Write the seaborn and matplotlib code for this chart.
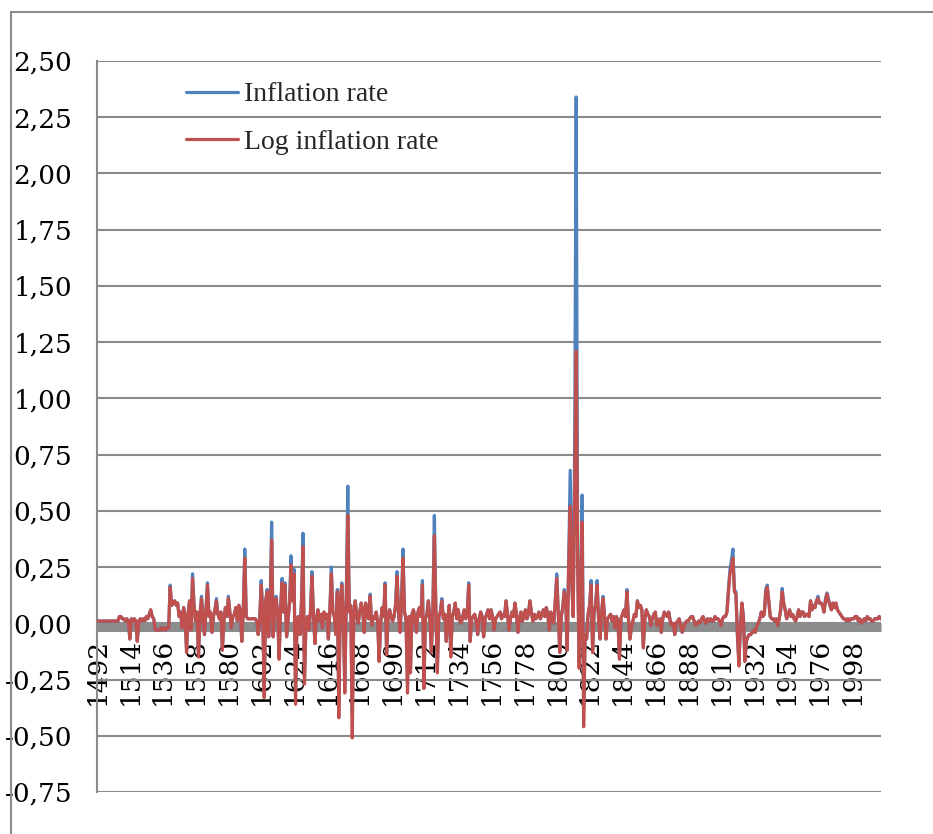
import numpy as np
import pandas as pd
import matplotlib
matplotlib.use("Agg")
import matplotlib.pyplot as plt
import seaborn as sns
from matplotlib.lines import Line2D

# ---------------- data ----------------
start_year = 1492
end_year = 2017
years = list(range(start_year, end_year + 1))

inflation_rate = [
    0.01, 0.01, 0.01, 0.01, 0.01, 0.01, 0.01, 0.01,                       # 1492-1499
    0.01, 0.01, 0.01, 0.01, 0.01, 0.01, 0.01, 0.03, 0.03, 0.02,           # 1500
    0.02, 0.01, 0.02, 0.01, -0.07, 0.02, 0.01, 0.02, 0.01, -0.08,         # 1510
    0.01, 0.02, 0.01, 0.02, 0.01, 0.03, 0.02, 0.04, 0.06, 0.03,           # 1520
    0.02, -0.03, -0.03, -0.03, -0.03, -0.02, -0.03, -0.02, -0.03, -0.02,  # 1530
    -0.02, 0.17, 0.08, 0.09, 0.10, 0.08, 0.09, 0.03, 0.05, -0.02,         # 1540
    0.07, 0.03, -0.12, 0.04, 0.10, -0.03, 0.22, 0.08, 0.01, 0.05,         # 1550
    -0.14, 0.04, 0.12, 0.02, -0.05, 0.06, 0.18, 0.03, 0.05, -0.04,        # 1560
    0.03, 0.06, 0.11, 0.04, 0.02, 0.05, -0.11, 0.01, 0.07, 0.03,          # 1570
    0.12, 0.05, -0.02, 0.03, 0.04, 0.07, 0.01, 0.08, 0.06, -0.08,         # 1580
    0.06, 0.33, 0.03, 0.02, 0.02, 0.02, 0.02, 0.02, 0.02, 0.01,           # 1590
    -0.05, 0.02, 0.19, 0.05, -0.28, 0.10, 0.15, -0.06, 0.08, 0.45,        # 1600
    -0.06, 0.06, 0.12, 0.04, -0.15, 0.07, 0.20, 0.05, 0.18, -0.06,        # 1610
    0.02, 0.09, 0.30, 0.10, 0.24, -0.30, 0.02, 0.03, -0.05, 0.10,         # 1620
    0.40, -0.24, 0.01, 0.03, -0.03, 0.05, 0.23, 0.04, -0.09, 0.02,        # 1630
    0.06, 0.01, 0.04, -0.02, 0.05, 0.02, 0.04, -0.07, 0.06, 0.25,         # 1640
    0.05, 0.03, -0.05, 0.15, -0.34, 0.10, 0.18, 0.02, -0.27, 0.12,        # 1650
    0.61, 0.05, 0.08, -0.40, 0.04, 0.10, 0.03, 0.00, 0.05, 0.09,          # 1660
    0.06, -0.04, 0.09, 0.04, 0.02, 0.13, -0.01, 0.03, 0.02, 0.05,         # 1670
    0.01, -0.16, 0.00, 0.07, 0.03, 0.18, -0.13, 0.02, 0.06, 0.03,         # 1680
    0.01, 0.03, 0.08, 0.23, 0.05, -0.04, 0.10, 0.33, 0.05, 0.02,          # 1690
    -0.27, 0.03, -0.20, 0.04, 0.06, 0.02, -0.04, 0.05, 0.07, 0.03,        # 1700
    0.19, -0.25, 0.02, 0.04, 0.10, 0.01, -0.12, 0.06, 0.48, 0.06,         # 1710
    -0.20, 0.03, 0.05, 0.11, 0.02, 0.04, -0.08, 0.02, 0.08, -0.14,        # 1720
    0.03, 0.05, 0.09, 0.02, 0.06, 0.01, 0.00, 0.03, 0.06, 0.02,           # 1730
    0.04, 0.18, -0.08, 0.02, 0.03, 0.04, 0.01, -0.05, 0.02, 0.05,         # 1740
    0.03, -0.06, 0.02, 0.04, 0.06, 0.02, 0.06, 0.03, -0.03, 0.02,         # 1750
    0.03, 0.04, 0.05, 0.02, 0.04, 0.03, 0.10, 0.04, -0.03, 0.02,          # 1760
    0.05, 0.03, 0.09, 0.04, -0.04, 0.02, 0.05, 0.01, 0.03, 0.06,          # 1770
    0.02, 0.04, 0.10, 0.05, 0.01, 0.04, 0.02, 0.03, 0.05, 0.02,           # 1780
    0.04, 0.06, 0.03, 0.07, 0.04, -0.03, 0.05, 0.02, 0.00, 0.10,          # 1790
    0.22, 0.05, -0.12, 0.03, 0.07, 0.15, 0.11, -0.11, 0.30, 0.68,         # 1800
    0.20, 0.03, 0.81, 2.34, 0.30, -0.18, 0.15, 0.57, -0.37, -0.05,        # 1810
    -0.07, 0.04, 0.08, 0.19, -0.12, 0.05, 0.08, 0.19, 0.02, -0.07,        # 1820
    0.05, 0.12, 0.03, -0.07, 0.02, 0.03, 0.04, 0.01, 0.03, -0.02,         # 1830
    0.03, 0.01, -0.15, 0.02, 0.04, 0.06, 0.03, 0.15, 0.02, -0.07,         # 1840
    -0.02, 0.01, 0.04, 0.03, 0.10, 0.07, 0.08, 0.06, -0.10, 0.02,         # 1850
    0.06, 0.04, 0.03, -0.01, 0.02, 0.04, 0.05, -0.01, 0.01, 0.02,         # 1860
    -0.04, 0.02, 0.05, 0.04, 0.03, 0.05, 0.01, -0.01, 0.00, -0.05,        # 1870
    0.00, 0.01, 0.02, -0.01, -0.04, -0.02, 0.00, 0.01, 0.01, 0.02,        # 1880
    0.03, 0.03, 0.01, -0.01, 0.00, 0.01, 0.00, 0.02, 0.03, 0.01,          # 1890
    0.00, 0.02, 0.01, 0.02, 0.01, 0.01, 0.03, 0.02, 0.02, 0.01,           # 1900
    -0.01, 0.02, 0.03, 0.03, 0.05, 0.15, 0.24, 0.28, 0.33, 0.15,          # 1910
    0.14, -0.05, -0.17, -0.02, 0.09, 0.03, -0.16, -0.08, -0.06, -0.05,    # 1920
    -0.05, -0.04, -0.03, -0.04, -0.01, 0.00, 0.02, 0.05, 0.03, 0.04,      # 1930
    0.15, 0.17, 0.10, 0.03, 0.02, 0.02, 0.01, 0.02, -0.01, 0.02,          # 1940
    0.06, 0.155, 0.09, 0.06, 0.02, 0.04, 0.06, 0.03, 0.04, 0.02,          # 1950
    0.01, 0.03, 0.06, 0.03, 0.05, 0.05, 0.03, 0.04, 0.04, 0.03,           # 1960
    0.10, 0.06, 0.08, 0.07, 0.10, 0.12, 0.09, 0.09, 0.08, 0.05,           # 1970
    0.11, 0.135, 0.11, 0.08, 0.06, 0.09, 0.07, 0.09, 0.06, 0.05,          # 1980
    0.04, 0.03, 0.02, 0.02, 0.01, 0.02, 0.01, 0.02, 0.02, 0.02,           # 1990
    0.03, 0.03, 0.01, 0.02, 0.00, 0.01, 0.02, 0.01, 0.03, 0.02,           # 2000
    0.02, 0.01, 0.01, 0.02, 0.02, 0.02, 0.03, 0.02,                       # 2010-2017
]

log_inflation_rate = [
    0.01, 0.01, 0.01, 0.01, 0.01, 0.01, 0.01, 0.01,                       # 1492-1499
    0.01, 0.01, 0.01, 0.01, 0.01, 0.01, 0.01, 0.03, 0.03, 0.02,           # 1500
    0.02, 0.01, 0.02, 0.01, -0.07, 0.02, 0.01, 0.02, 0.01, -0.08,         # 1510
    0.01, 0.02, 0.01, 0.02, 0.01, 0.03, 0.02, 0.04, 0.06, 0.03,           # 1520
    0.02, -0.03, -0.03, -0.03, -0.03, -0.02, -0.03, -0.02, -0.03, -0.02,  # 1530
    -0.02, 0.16, 0.08, 0.09, 0.10, 0.08, 0.09, 0.03, 0.05, -0.02,         # 1540
    0.07, 0.03, -0.13, 0.04, 0.10, -0.03, 0.20, 0.08, 0.01, 0.05,         # 1550
    -0.15, 0.04, 0.11, 0.02, -0.05, 0.06, 0.17, 0.03, 0.05, -0.04,        # 1560
    0.03, 0.06, 0.10, 0.04, 0.02, 0.05, -0.12, 0.01, 0.07, 0.03,          # 1570
    0.11, 0.05, -0.02, 0.03, 0.04, 0.07, 0.01, 0.08, 0.06, -0.08,         # 1580
    0.06, 0.29, 0.03, 0.02, 0.02, 0.02, 0.02, 0.02, 0.02, 0.01,           # 1590
    -0.05, 0.02, 0.17, 0.05, -0.33, 0.10, 0.14, -0.06, 0.08, 0.37,        # 1600
    -0.06, 0.06, 0.11, 0.04, -0.16, 0.07, 0.18, 0.05, 0.17, -0.06,        # 1610
    0.02, 0.09, 0.26, 0.10, 0.22, -0.36, 0.02, 0.03, -0.05, 0.10,         # 1620
    0.34, -0.27, 0.01, 0.03, -0.03, 0.05, 0.21, 0.04, -0.09, 0.02,        # 1630
    0.06, 0.01, 0.04, -0.02, 0.05, 0.02, 0.04, -0.07, 0.06, 0.22,         # 1640
    0.05, 0.03, -0.05, 0.14, -0.42, 0.10, 0.17, 0.02, -0.31, 0.11,        # 1650
    0.48, 0.05, 0.08, -0.51, 0.04, 0.10, 0.03, 0.00, 0.05, 0.09,          # 1660
    0.06, -0.04, 0.09, 0.04, 0.02, 0.12, -0.01, 0.03, 0.02, 0.05,         # 1670
    0.01, -0.17, 0.00, 0.07, 0.03, 0.17, -0.14, 0.02, 0.06, 0.03,         # 1680
    0.01, 0.03, 0.08, 0.21, 0.05, -0.04, 0.10, 0.29, 0.05, 0.02,          # 1690
    -0.31, 0.03, -0.22, 0.04, 0.06, 0.02, -0.04, 0.05, 0.07, 0.03,        # 1700
    0.17, -0.29, 0.02, 0.04, 0.10, 0.01, -0.13, 0.06, 0.39, 0.06,         # 1710
    -0.22, 0.03, 0.05, 0.10, 0.02, 0.04, -0.08, 0.02, 0.08, -0.15,        # 1720
    0.03, 0.05, 0.09, 0.02, 0.06, 0.01, 0.00, 0.03, 0.06, 0.02,           # 1730
    0.04, 0.17, -0.08, 0.02, 0.03, 0.04, 0.01, -0.05, 0.02, 0.05,         # 1740
    0.03, -0.06, 0.02, 0.04, 0.06, 0.02, 0.06, 0.03, -0.03, 0.02,         # 1750
    0.03, 0.04, 0.05, 0.02, 0.04, 0.03, 0.10, 0.04, -0.03, 0.02,          # 1760
    0.05, 0.03, 0.09, 0.04, -0.04, 0.02, 0.05, 0.01, 0.03, 0.06,          # 1770
    0.02, 0.04, 0.10, 0.05, 0.01, 0.04, 0.02, 0.03, 0.05, 0.02,           # 1780
    0.04, 0.06, 0.03, 0.07, 0.04, -0.03, 0.05, 0.02, 0.00, 0.10,          # 1790
    0.20, 0.05, -0.13, 0.03, 0.07, 0.14, 0.10, -0.12, 0.26, 0.52,         # 1800
    0.18, 0.03, 0.59, 1.21, 0.26, -0.20, 0.14, 0.45, -0.46, -0.05,        # 1810
    -0.07, 0.04, 0.08, 0.17, -0.13, 0.05, 0.08, 0.17, 0.02, -0.07,        # 1820
    0.05, 0.11, 0.03, -0.07, 0.02, 0.03, 0.04, 0.01, 0.03, -0.02,         # 1830
    0.03, 0.01, -0.16, 0.02, 0.04, 0.06, 0.03, 0.14, 0.02, -0.07,         # 1840
    -0.02, 0.01, 0.04, 0.03, 0.10, 0.07, 0.08, 0.06, -0.11, 0.02,         # 1850
    0.06, 0.04, 0.03, -0.01, 0.02, 0.04, 0.05, -0.01, 0.01, 0.02,         # 1860
    -0.04, 0.02, 0.05, 0.04, 0.03, 0.05, 0.01, -0.01, 0.00, -0.05,        # 1870
    0.00, 0.01, 0.02, -0.01, -0.04, -0.02, 0.00, 0.01, 0.01, 0.02,        # 1880
    0.03, 0.03, 0.01, -0.01, 0.00, 0.01, 0.00, 0.02, 0.03, 0.01,          # 1890
    0.00, 0.02, 0.01, 0.02, 0.01, 0.01, 0.03, 0.02, 0.02, 0.01,           # 1900
    -0.01, 0.02, 0.03, 0.03, 0.05, 0.14, 0.22, 0.25, 0.29, 0.14,          # 1910
    0.13, -0.05, -0.19, -0.02, 0.09, 0.03, -0.17, -0.08, -0.06, -0.05,    # 1920
    -0.05, -0.04, -0.03, -0.04, -0.01, 0.00, 0.02, 0.05, 0.03, 0.04,      # 1930
    0.14, 0.16, 0.10, 0.03, 0.02, 0.02, 0.01, 0.02, -0.01, 0.02,          # 1940
    0.06, 0.14, 0.09, 0.06, 0.02, 0.04, 0.06, 0.03, 0.04, 0.02,           # 1950
    0.01, 0.03, 0.06, 0.03, 0.05, 0.05, 0.03, 0.04, 0.04, 0.03,           # 1960
    0.10, 0.06, 0.08, 0.07, 0.10, 0.11, 0.09, 0.09, 0.08, 0.05,           # 1970
    0.10, 0.13, 0.10, 0.08, 0.06, 0.09, 0.07, 0.09, 0.06, 0.05,           # 1980
    0.04, 0.03, 0.02, 0.02, 0.01, 0.02, 0.01, 0.02, 0.02, 0.02,           # 1990
    0.03, 0.03, 0.01, 0.02, 0.00, 0.01, 0.02, 0.01, 0.03, 0.02,           # 2000
    0.02, 0.01, 0.01, 0.02, 0.02, 0.02, 0.03, 0.02,                       # 2010-2017
]

series_names = ["Inflation rate", "Log inflation rate"]
series_colors = ["#4F81BD", "#C0504D"]
y_ticks = [-0.75, -0.50, -0.25, 0.00, 0.25, 0.50, 0.75, 1.00, 1.25,
           1.50, 1.75, 2.00, 2.25, 2.50]
x_tick_years = [1492, 1514, 1536, 1558, 1580, 1602, 1624, 1646, 1668, 1690,
                1712, 1734, 1756, 1778, 1800, 1822, 1844, 1866, 1888, 1910,
                1932, 1954, 1976, 1998]

# ---------------- figure ----------------
sns.set_style("white")
plt.rcParams["font.family"] = ["DejaVu Serif", "Liberation Serif"]

W, H = 933, 834
fig = plt.figure(figsize=(W / 100, H / 100), dpi=100)
ax = fig.add_axes([97 / W, (H - 792) / H, (880.7 - 97) / W, (792 - 61) / H])

n = len(years)
df = pd.DataFrame({
    "year": years + years,
    "value": inflation_rate + log_inflation_rate,
    "series": [series_names[0]] * n + [series_names[1]] * n,
})
sns.lineplot(data=df, x="year", y="value", hue="series",
             hue_order=series_names, palette=series_colors,
             linewidth=2.3, estimator=None, legend=False, ax=ax, zorder=3)

ax.set_xlim(start_year, end_year)
ax.set_ylim(-0.75, 2.5)
ax.set_yticks(y_ticks)
ax.set_yticklabels([f"{v:.2f}".replace(".", ",") for v in y_ticks])
ax.set_xticks(x_tick_years)
ax.set_xticklabels([str(y) for y in x_tick_years])
ax.set_xlabel("")
ax.set_ylabel("")

grid_col = "#8a8a8a"
ax.grid(axis="y", color=grid_col, linewidth=1.5)
ax.grid(axis="x", visible=False)
ax.set_axisbelow(True)

for s in ["top", "right"]:
    ax.spines[s].set_visible(False)
ax.spines["left"].set_color(grid_col)
ax.spines["left"].set_linewidth(1.5)
ax.spines["bottom"].set_position(("data", -0.016))
ax.spines["bottom"].set_color("#8c8c8c")
ax.spines["bottom"].set_linewidth(6.5)
ax.spines["bottom"].set_capstyle("butt")
ax.spines["bottom"].set_zorder(1)

ax.tick_params(axis="y", length=5.8, width=1.5, color=grid_col, pad=12,
               labelsize=19, labelcolor="black")
ax.tick_params(axis="x", length=0, pad=8, labelsize=19, labelcolor="black",
               labelrotation=90)
for lbl in ax.get_xticklabels():
    lbl.set_rotation(90)
    lbl.set_horizontalalignment("center")
    lbl.set_verticalalignment("top")

handles = [Line2D([], [], color=c, lw=2.3) for c in series_colors]
ax.legend(handles, series_names, loc="upper left",
          bbox_to_anchor=(186 / W, 1 - 82 / H), bbox_transform=fig.transFigure,
          frameon=False, prop={"family": "Liberation Serif", "size": 20},
          handlelength=1.87, handletextpad=0.22, labelspacing=0.80,
          borderpad=0, borderaxespad=0)

# outer chart-area frame (open at right and bottom, as in the reference)
frame_col = "#8c8c8c"
fig.add_artist(Line2D([11 / W, 11 / W], [0, 1 - 12 / H], transform=fig.transFigure,
                      color=frame_col, lw=1.5))
fig.add_artist(Line2D([11 / W, 1], [1 - 12 / H, 1 - 12 / H], transform=fig.transFigure,
                      color=frame_col, lw=1.5))

fig.savefig("out.png", dpi=100)
